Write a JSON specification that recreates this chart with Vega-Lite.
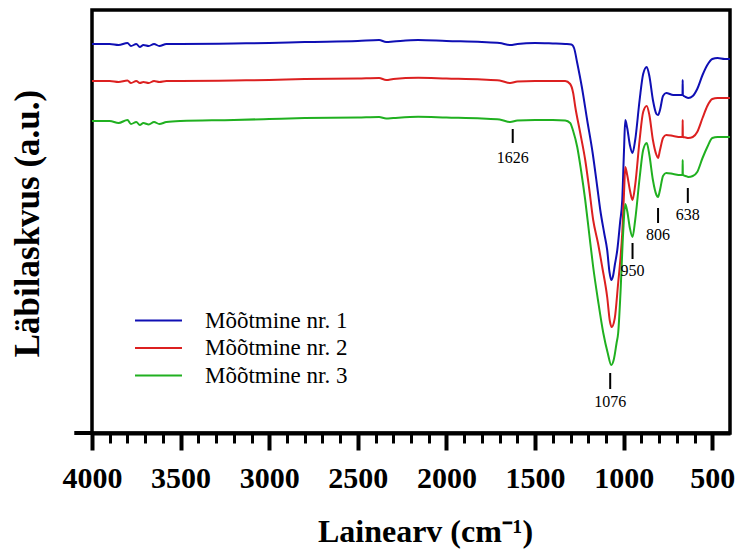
{
"$schema": "https://vega.github.io/schema/vega-lite/v6.json",
"width": 638, "height": 423,
"autosize": {"type": "none"},
"padding": {"left": 92, "top": 10, "right": 9, "bottom": 120},
"background": "white",
"config": {"view": {"stroke": "black", "strokeWidth": 3.5}, "font": "Liberation Serif"},
"datasets": {
"spectra": [
{"series":"Mõõtmine nr. 1","wavenumber":4000,"transmittance":389},{"series":"Mõõtmine nr. 1","wavenumber":3900,"transmittance":389},{"series":"Mõõtmine nr. 1","wavenumber":3850,"transmittance":388},{"series":"Mõõtmine nr. 1","wavenumber":3800,"transmittance":390},{"series":"Mõõtmine nr. 1","wavenumber":3780,"transmittance":387},{"series":"Mõõtmine nr. 1","wavenumber":3750,"transmittance":389},{"series":"Mõõtmine nr. 1","wavenumber":3730,"transmittance":386},{"series":"Mõõtmine nr. 1","wavenumber":3710,"transmittance":388},{"series":"Mõõtmine nr. 1","wavenumber":3680,"transmittance":387},{"series":"Mõõtmine nr. 1","wavenumber":3650,"transmittance":389},{"series":"Mõõtmine nr. 1","wavenumber":3620,"transmittance":387},{"series":"Mõõtmine nr. 1","wavenumber":3580,"transmittance":389},{"series":"Mõõtmine nr. 1","wavenumber":3500,"transmittance":389},{"series":"Mõõtmine nr. 1","wavenumber":3200,"transmittance":389.5},{"series":"Mõõtmine nr. 1","wavenumber":3000,"transmittance":390},{"series":"Mõõtmine nr. 1","wavenumber":2800,"transmittance":391},{"series":"Mõõtmine nr. 1","wavenumber":2500,"transmittance":392},{"series":"Mõõtmine nr. 1","wavenumber":2380,"transmittance":393},{"series":"Mõõtmine nr. 1","wavenumber":2340,"transmittance":391},{"series":"Mõõtmine nr. 1","wavenumber":2300,"transmittance":391.5},{"series":"Mõõtmine nr. 1","wavenumber":2160,"transmittance":393},{"series":"Mõõtmine nr. 1","wavenumber":2000,"transmittance":392},{"series":"Mõõtmine nr. 1","wavenumber":1800,"transmittance":391},{"series":"Mõõtmine nr. 1","wavenumber":1700,"transmittance":390},{"series":"Mõõtmine nr. 1","wavenumber":1640,"transmittance":388},{"series":"Mõõtmine nr. 1","wavenumber":1600,"transmittance":389},{"series":"Mõõtmine nr. 1","wavenumber":1500,"transmittance":390},{"series":"Mõõtmine nr. 1","wavenumber":1400,"transmittance":389.5},{"series":"Mõõtmine nr. 1","wavenumber":1330,"transmittance":389},{"series":"Mõõtmine nr. 1","wavenumber":1295,"transmittance":388.5},{"series":"Mõõtmine nr. 1","wavenumber":1280,"transmittance":385},{"series":"Mõõtmine nr. 1","wavenumber":1262,"transmittance":370},{"series":"Mõõtmine nr. 1","wavenumber":1235,"transmittance":345},{"series":"Mõõtmine nr. 1","wavenumber":1206,"transmittance":313},{"series":"Mõõtmine nr. 1","wavenumber":1175,"transmittance":280},{"series":"Mõõtmine nr. 1","wavenumber":1149,"transmittance":246},{"series":"Mõõtmine nr. 1","wavenumber":1132,"transmittance":223},{"series":"Mõõtmine nr. 1","wavenumber":1110,"transmittance":200},{"series":"Mõõtmine nr. 1","wavenumber":1093,"transmittance":183},{"series":"Mõõtmine nr. 1","wavenumber":1080,"transmittance":161},{"series":"Mõõtmine nr. 1","wavenumber":1070,"transmittance":153},{"series":"Mõõtmine nr. 1","wavenumber":1060,"transmittance":157},{"series":"Mõõtmine nr. 1","wavenumber":1050,"transmittance":168},{"series":"Mõõtmine nr. 1","wavenumber":1036,"transmittance":183},{"series":"Mõõtmine nr. 1","wavenumber":1020,"transmittance":211},{"series":"Mõõtmine nr. 1","wavenumber":1008,"transmittance":233},{"series":"Mõõtmine nr. 1","wavenumber":998,"transmittance":283},{"series":"Mõõtmine nr. 1","wavenumber":991,"transmittance":313},{"series":"Mõõtmine nr. 1","wavenumber":980,"transmittance":305},{"series":"Mõõtmine nr. 1","wavenumber":965,"transmittance":288},{"series":"Mõõtmine nr. 1","wavenumber":950,"transmittance":280},{"series":"Mõõtmine nr. 1","wavenumber":935,"transmittance":293},{"series":"Mõõtmine nr. 1","wavenumber":910,"transmittance":333},{"series":"Mõõtmine nr. 1","wavenumber":890,"transmittance":359},{"series":"Mõõtmine nr. 1","wavenumber":870,"transmittance":366},{"series":"Mõõtmine nr. 1","wavenumber":855,"transmittance":357},{"series":"Mõõtmine nr. 1","wavenumber":835,"transmittance":333},{"series":"Mõõtmine nr. 1","wavenumber":815,"transmittance":319},{"series":"Mõõtmine nr. 1","wavenumber":806,"transmittance":318},{"series":"Mõõtmine nr. 1","wavenumber":795,"transmittance":323},{"series":"Mõõtmine nr. 1","wavenumber":778,"transmittance":337},{"series":"Mõõtmine nr. 1","wavenumber":760,"transmittance":340},{"series":"Mõõtmine nr. 1","wavenumber":720,"transmittance":338},{"series":"Mõõtmine nr. 1","wavenumber":680,"transmittance":338},{"series":"Mõõtmine nr. 1","wavenumber":668,"transmittance":338},{"series":"Mõõtmine nr. 1","wavenumber":667,"transmittance":353},{"series":"Mõõtmine nr. 1","wavenumber":666,"transmittance":338},{"series":"Mõõtmine nr. 1","wavenumber":650,"transmittance":336},{"series":"Mõõtmine nr. 1","wavenumber":635,"transmittance":335},{"series":"Mõõtmine nr. 1","wavenumber":610,"transmittance":337},{"series":"Mõõtmine nr. 1","wavenumber":585,"transmittance":344},{"series":"Mõõtmine nr. 1","wavenumber":555,"transmittance":358},{"series":"Mõõtmine nr. 1","wavenumber":528,"transmittance":368},{"series":"Mõõtmine nr. 1","wavenumber":500,"transmittance":374},{"series":"Mõõtmine nr. 1","wavenumber":470,"transmittance":375},{"series":"Mõõtmine nr. 1","wavenumber":430,"transmittance":374},{"series":"Mõõtmine nr. 1","wavenumber":400,"transmittance":374},
{"series":"Mõõtmine nr. 2","wavenumber":4000,"transmittance":352},{"series":"Mõõtmine nr. 2","wavenumber":3900,"transmittance":352},{"series":"Mõõtmine nr. 2","wavenumber":3850,"transmittance":351},{"series":"Mõõtmine nr. 2","wavenumber":3800,"transmittance":352.5},{"series":"Mõõtmine nr. 2","wavenumber":3780,"transmittance":350},{"series":"Mõõtmine nr. 2","wavenumber":3750,"transmittance":352},{"series":"Mõõtmine nr. 2","wavenumber":3730,"transmittance":350},{"series":"Mõõtmine nr. 2","wavenumber":3710,"transmittance":351},{"series":"Mõõtmine nr. 2","wavenumber":3680,"transmittance":350},{"series":"Mõõtmine nr. 2","wavenumber":3650,"transmittance":352},{"series":"Mõõtmine nr. 2","wavenumber":3620,"transmittance":351},{"series":"Mõõtmine nr. 2","wavenumber":3580,"transmittance":352},{"series":"Mõõtmine nr. 2","wavenumber":3500,"transmittance":352},{"series":"Mõõtmine nr. 2","wavenumber":3200,"transmittance":352.5},{"series":"Mõõtmine nr. 2","wavenumber":3000,"transmittance":353},{"series":"Mõõtmine nr. 2","wavenumber":2800,"transmittance":354},{"series":"Mõõtmine nr. 2","wavenumber":2500,"transmittance":354.5},{"series":"Mõõtmine nr. 2","wavenumber":2380,"transmittance":355},{"series":"Mõõtmine nr. 2","wavenumber":2340,"transmittance":353},{"series":"Mõõtmine nr. 2","wavenumber":2300,"transmittance":354},{"series":"Mõõtmine nr. 2","wavenumber":2160,"transmittance":355.3},{"series":"Mõõtmine nr. 2","wavenumber":2000,"transmittance":354.5},{"series":"Mõõtmine nr. 2","wavenumber":1800,"transmittance":353.5},{"series":"Mõõtmine nr. 2","wavenumber":1700,"transmittance":352.5},{"series":"Mõõtmine nr. 2","wavenumber":1640,"transmittance":350},{"series":"Mõõtmine nr. 2","wavenumber":1600,"transmittance":351.5},{"series":"Mõõtmine nr. 2","wavenumber":1500,"transmittance":352},{"series":"Mõõtmine nr. 2","wavenumber":1400,"transmittance":352},{"series":"Mõõtmine nr. 2","wavenumber":1330,"transmittance":352},{"series":"Mõõtmine nr. 2","wavenumber":1302,"transmittance":349},{"series":"Mõõtmine nr. 2","wavenumber":1285,"transmittance":340},{"series":"Mõõtmine nr. 2","wavenumber":1273,"transmittance":326},{"series":"Mõõtmine nr. 2","wavenumber":1245,"transmittance":300},{"series":"Mõõtmine nr. 2","wavenumber":1217,"transmittance":273},{"series":"Mõõtmine nr. 2","wavenumber":1195,"transmittance":245},{"series":"Mõõtmine nr. 2","wavenumber":1172,"transmittance":213},{"series":"Mõõtmine nr. 2","wavenumber":1145,"transmittance":190},{"series":"Mõõtmine nr. 2","wavenumber":1121,"transmittance":166},{"series":"Mõõtmine nr. 2","wavenumber":1093,"transmittance":136},{"series":"Mõõtmine nr. 2","wavenumber":1078,"transmittance":112},{"series":"Mõõtmine nr. 2","wavenumber":1068,"transmittance":106},{"series":"Mõõtmine nr. 2","wavenumber":1050,"transmittance":115},{"series":"Mõõtmine nr. 2","wavenumber":1031,"transmittance":150},{"series":"Mõõtmine nr. 2","wavenumber":1018,"transmittance":175},{"series":"Mõõtmine nr. 2","wavenumber":1008,"transmittance":200},{"series":"Mõõtmine nr. 2","wavenumber":998,"transmittance":240},{"series":"Mõõtmine nr. 2","wavenumber":991,"transmittance":266},{"series":"Mõõtmine nr. 2","wavenumber":980,"transmittance":258},{"series":"Mõõtmine nr. 2","wavenumber":965,"transmittance":243},{"series":"Mõõtmine nr. 2","wavenumber":950,"transmittance":233},{"series":"Mõõtmine nr. 2","wavenumber":935,"transmittance":248},{"series":"Mõõtmine nr. 2","wavenumber":910,"transmittance":293},{"series":"Mõõtmine nr. 2","wavenumber":890,"transmittance":321},{"series":"Mõõtmine nr. 2","wavenumber":870,"transmittance":327},{"series":"Mõõtmine nr. 2","wavenumber":855,"transmittance":318},{"series":"Mõõtmine nr. 2","wavenumber":835,"transmittance":293},{"series":"Mõõtmine nr. 2","wavenumber":815,"transmittance":278},{"series":"Mõõtmine nr. 2","wavenumber":806,"transmittance":275},{"series":"Mõõtmine nr. 2","wavenumber":795,"transmittance":283},{"series":"Mõõtmine nr. 2","wavenumber":778,"transmittance":295},{"series":"Mõõtmine nr. 2","wavenumber":760,"transmittance":298},{"series":"Mõõtmine nr. 2","wavenumber":720,"transmittance":297},{"series":"Mõõtmine nr. 2","wavenumber":680,"transmittance":296},{"series":"Mõõtmine nr. 2","wavenumber":668,"transmittance":296},{"series":"Mõõtmine nr. 2","wavenumber":667,"transmittance":313},{"series":"Mõõtmine nr. 2","wavenumber":666,"transmittance":296},{"series":"Mõõtmine nr. 2","wavenumber":650,"transmittance":295.5},{"series":"Mõõtmine nr. 2","wavenumber":635,"transmittance":295},{"series":"Mõõtmine nr. 2","wavenumber":610,"transmittance":296},{"series":"Mõõtmine nr. 2","wavenumber":585,"transmittance":301},{"series":"Mõõtmine nr. 2","wavenumber":555,"transmittance":315},{"series":"Mõõtmine nr. 2","wavenumber":528,"transmittance":327},{"series":"Mõõtmine nr. 2","wavenumber":500,"transmittance":334},{"series":"Mõõtmine nr. 2","wavenumber":470,"transmittance":335},{"series":"Mõõtmine nr. 2","wavenumber":430,"transmittance":335},{"series":"Mõõtmine nr. 2","wavenumber":400,"transmittance":335},
{"series":"Mõõtmine nr. 3","wavenumber":4000,"transmittance":312},{"series":"Mõõtmine nr. 3","wavenumber":3900,"transmittance":312},{"series":"Mõõtmine nr. 3","wavenumber":3850,"transmittance":310},{"series":"Mõõtmine nr. 3","wavenumber":3800,"transmittance":313},{"series":"Mõõtmine nr. 3","wavenumber":3780,"transmittance":309},{"series":"Mõõtmine nr. 3","wavenumber":3750,"transmittance":311},{"series":"Mõõtmine nr. 3","wavenumber":3730,"transmittance":308},{"series":"Mõõtmine nr. 3","wavenumber":3710,"transmittance":310},{"series":"Mõõtmine nr. 3","wavenumber":3680,"transmittance":308.5},{"series":"Mõõtmine nr. 3","wavenumber":3650,"transmittance":311},{"series":"Mõõtmine nr. 3","wavenumber":3620,"transmittance":309},{"series":"Mõõtmine nr. 3","wavenumber":3580,"transmittance":311},{"series":"Mõõtmine nr. 3","wavenumber":3500,"transmittance":312},{"series":"Mõõtmine nr. 3","wavenumber":3200,"transmittance":313},{"series":"Mõõtmine nr. 3","wavenumber":3000,"transmittance":314},{"series":"Mõõtmine nr. 3","wavenumber":2800,"transmittance":315},{"series":"Mõõtmine nr. 3","wavenumber":2500,"transmittance":315.5},{"series":"Mõõtmine nr. 3","wavenumber":2380,"transmittance":316},{"series":"Mõõtmine nr. 3","wavenumber":2340,"transmittance":314.5},{"series":"Mõõtmine nr. 3","wavenumber":2300,"transmittance":315},{"series":"Mõõtmine nr. 3","wavenumber":2160,"transmittance":316.3},{"series":"Mõõtmine nr. 3","wavenumber":2000,"transmittance":315.5},{"series":"Mõõtmine nr. 3","wavenumber":1800,"transmittance":314.5},{"series":"Mõõtmine nr. 3","wavenumber":1700,"transmittance":313.5},{"series":"Mõõtmine nr. 3","wavenumber":1640,"transmittance":311},{"series":"Mõõtmine nr. 3","wavenumber":1600,"transmittance":312.5},{"series":"Mõõtmine nr. 3","wavenumber":1500,"transmittance":313},{"series":"Mõõtmine nr. 3","wavenumber":1400,"transmittance":313},{"series":"Mõõtmine nr. 3","wavenumber":1330,"transmittance":312.5},{"series":"Mõõtmine nr. 3","wavenumber":1302,"transmittance":310},{"series":"Mõõtmine nr. 3","wavenumber":1285,"transmittance":302},{"series":"Mõõtmine nr. 3","wavenumber":1262,"transmittance":286},{"series":"Mõõtmine nr. 3","wavenumber":1240,"transmittance":262},{"series":"Mõõtmine nr. 3","wavenumber":1217,"transmittance":233},{"series":"Mõõtmine nr. 3","wavenumber":1195,"transmittance":200},{"series":"Mõõtmine nr. 3","wavenumber":1172,"transmittance":166},{"series":"Mõõtmine nr. 3","wavenumber":1145,"transmittance":133},{"series":"Mõõtmine nr. 3","wavenumber":1115,"transmittance":100},{"series":"Mõõtmine nr. 3","wavenumber":1090,"transmittance":80},{"series":"Mõõtmine nr. 3","wavenumber":1070,"transmittance":68},{"series":"Mõõtmine nr. 3","wavenumber":1055,"transmittance":74},{"series":"Mõõtmine nr. 3","wavenumber":1040,"transmittance":90},{"series":"Mõõtmine nr. 3","wavenumber":1031,"transmittance":100},{"series":"Mõõtmine nr. 3","wavenumber":1018,"transmittance":140},{"series":"Mõõtmine nr. 3","wavenumber":1003,"transmittance":200},{"series":"Mõõtmine nr. 3","wavenumber":991,"transmittance":229},{"series":"Mõõtmine nr. 3","wavenumber":980,"transmittance":222},{"series":"Mõõtmine nr. 3","wavenumber":965,"transmittance":205},{"series":"Mõõtmine nr. 3","wavenumber":950,"transmittance":196},{"series":"Mõõtmine nr. 3","wavenumber":935,"transmittance":213},{"series":"Mõõtmine nr. 3","wavenumber":910,"transmittance":255},{"series":"Mõõtmine nr. 3","wavenumber":890,"transmittance":283},{"series":"Mõõtmine nr. 3","wavenumber":870,"transmittance":290},{"series":"Mõõtmine nr. 3","wavenumber":855,"transmittance":278},{"series":"Mõõtmine nr. 3","wavenumber":835,"transmittance":253},{"series":"Mõõtmine nr. 3","wavenumber":815,"transmittance":238},{"series":"Mõõtmine nr. 3","wavenumber":806,"transmittance":236},{"series":"Mõõtmine nr. 3","wavenumber":795,"transmittance":243},{"series":"Mõõtmine nr. 3","wavenumber":778,"transmittance":257},{"series":"Mõõtmine nr. 3","wavenumber":760,"transmittance":260},{"series":"Mõõtmine nr. 3","wavenumber":720,"transmittance":259},{"series":"Mõõtmine nr. 3","wavenumber":680,"transmittance":258},{"series":"Mõõtmine nr. 3","wavenumber":668,"transmittance":258},{"series":"Mõõtmine nr. 3","wavenumber":667,"transmittance":273},{"series":"Mõõtmine nr. 3","wavenumber":666,"transmittance":258},{"series":"Mõõtmine nr. 3","wavenumber":650,"transmittance":257},{"series":"Mõõtmine nr. 3","wavenumber":635,"transmittance":256},{"series":"Mõõtmine nr. 3","wavenumber":610,"transmittance":257},{"series":"Mõõtmine nr. 3","wavenumber":585,"transmittance":261},{"series":"Mõõtmine nr. 3","wavenumber":555,"transmittance":275},{"series":"Mõõtmine nr. 3","wavenumber":528,"transmittance":286},{"series":"Mõõtmine nr. 3","wavenumber":500,"transmittance":295},{"series":"Mõõtmine nr. 3","wavenumber":470,"transmittance":296},{"series":"Mõõtmine nr. 3","wavenumber":430,"transmittance":296},{"series":"Mõõtmine nr. 3","wavenumber":400,"transmittance":296}
],
"peaks": [
{"label":"1626","wavenumber":1626,"tickTop":304,"tickBottom":290,"labelY":275},
{"label":"1076","wavenumber":1076,"tickTop":60,"tickBottom":44,"labelY":31},
{"label":"950","wavenumber":950,"tickTop":190,"tickBottom":174,"labelY":162},
{"label":"806","wavenumber":806,"tickTop":225,"tickBottom":210,"labelY":198},
{"label":"638","wavenumber":638,"tickTop":245,"tickBottom":230,"labelY":218}
],
"axisext": [{"from": 4100, "to": 4000, "level": 0}]
},
"layer": [
{"data": {"name": "spectra"},
 "mark": {"type": "line", "strokeWidth": 2, "interpolate": "monotone"},
 "encoding": {
  "x": {"field": "wavenumber", "type": "quantitative",
   "scale": {"domain": [4000, 400], "nice": false, "zero": false},
   "axis": {
    "values": [4000,3900,3800,3700,3600,3500,3400,3300,3200,3100,3000,2900,2800,2700,2600,2500,2400,2300,2200,2100,2000,1900,1800,1700,1600,1500,1400,1300,1200,1100,1000,900,800,700,600,500],
    "tickCount": 60,
    "labelExpr": "datum.value % 500 === 0 ? '' + datum.value : ''",
    "tickSize": {"condition": {"test": "datum.value % 500 === 0", "value": 17}, "value": 10},
    "tickWidth": {"condition": {"test": "datum.value % 500 === 0", "value": 4}, "value": 3},
    "tickColor": "black", "domainColor": "black", "domainWidth": 4, "grid": false,
    "labelFont": {"expr": "'Liberation Serif'"}, "labelFontWeight": "bold", "labelFontSize": 30, "labelColor": "black",
    "labelPadding": 13, "labelFlush": false, "labelOverlap": false,
    "title": "Lainearv (cm⁻¹)", "titleFont": "Liberation Serif", "titleFontSize": 32, "titleFontWeight": "bold", "titleColor": "black",
    "titleX": 333, "titleY": 108, "titleAlign": "center", "titleBaseline": "alphabetic"
   }},
  "y": {"field": "transmittance", "type": "quantitative",
   "scale": {"domain": [0, 423], "nice": false, "zero": false},
   "axis": {"ticks": false, "labels": false, "domain": false, "grid": false,
    "title": "Läbilaskvus (a.u.)", "titleFont": "Liberation Serif", "titleFontSize": 35, "titleFontWeight": "bold", "titleColor": "black",
    "titleAngle": -90, "titleX": -54, "titleY": 213, "titleAlign": "center", "titleBaseline": "alphabetic"}},
  "color": {"field": "series", "type": "nominal",
   "scale": {"domain": ["Mõõtmine nr. 1", "Mõõtmine nr. 2", "Mõõtmine nr. 3"], "range": ["#0f0fb4", "#dc2020", "#20b020"]},
   "legend": {"orient": "none", "legendX": 55, "legendY": 299, "title": null, "padding": 0,
    "symbolType": "M-2.5,0H2.5", "symbolSize": 353, "symbolStrokeWidth": 2,
    "labelFont": {"expr": "'Liberation Serif'"}, "labelFontSize": 23, "labelColor": "black", "labelOffset": 35, "rowPadding": 3.5,
    "labelLimit": 0}}
 }},
{"data": {"name": "peaks"},
 "mark": {"type": "rule", "strokeWidth": 2, "color": "black"},
 "encoding": {
  "x": {"field": "wavenumber", "type": "quantitative"},
  "y": {"field": "tickTop", "type": "quantitative"},
  "y2": {"field": "tickBottom"}
 }},
{"data": {"name": "peaks"},
 "mark": {"type": "text", "fontSize": 16, "font": "Liberation Serif", "baseline": "middle", "align": "center", "color": "black"},
 "encoding": {
  "x": {"field": "wavenumber", "type": "quantitative"},
  "y": {"field": "labelY", "type": "quantitative"},
  "text": {"field": "label"}
 }},
{"data": {"name": "axisext"},
 "mark": {"type": "rule", "strokeWidth": 4, "color": "black"},
 "encoding": {
  "x": {"field": "from", "type": "quantitative"},
  "x2": {"field": "to"},
  "y": {"field": "level", "type": "quantitative"}
 }}
]
}
